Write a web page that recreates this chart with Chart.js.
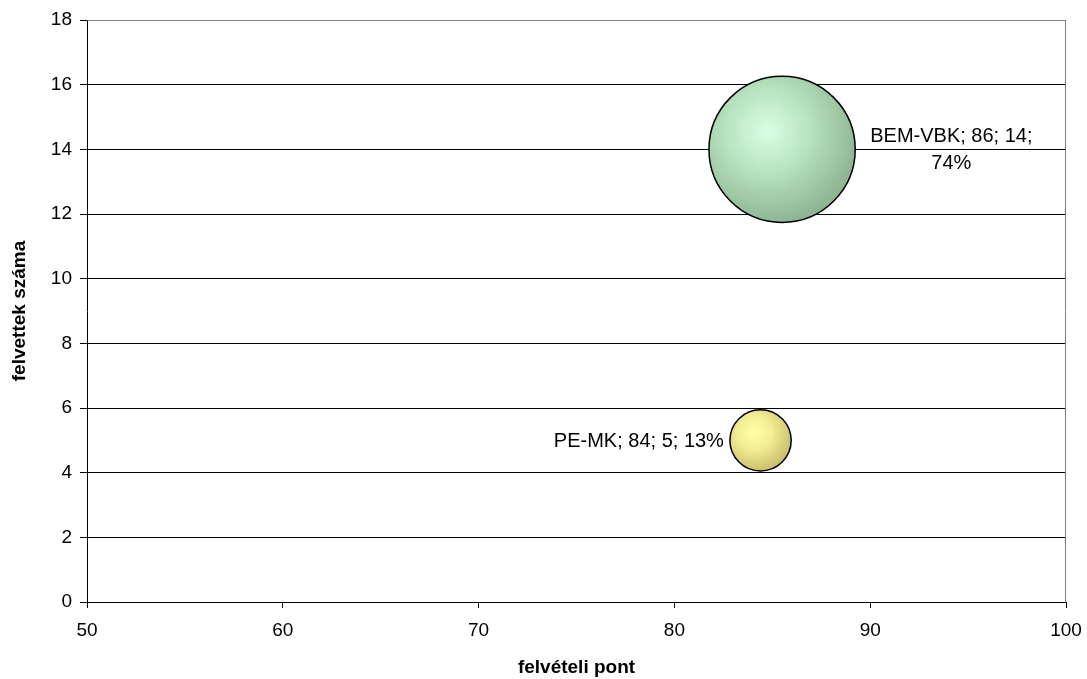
<!DOCTYPE html>
<html>
<head>
<meta charset="utf-8">
<script src="https://cdn.jsdelivr.net/npm/chart.js@4/dist/chart.umd.min.js"></script>
<style>
  body { margin: 0; background: #fff; }
  #wrap { width: 1087px; height: 679px; }
</style>
</head>
<body>
<div id="wrap"><canvas id="chart" width="1087" height="679"></canvas></div>
<script>
// adatok
const names = ['BEM-VBK', 'PE-MK'];
const points = [85.5, 84.4];      // felvételi pont
const admitted = [14, 5];         // felvettek száma
const shares = [74, 13];          // buborék mérete (%)
const labelSide = ['right', 'left'];

const xTicks = { min: 50, max: 100, step: 10 };
const yTicks = { min: 0, max: 18, step: 2 };

const bubbleScale = 8.5;
const fontFamily = '"Liberation Sans", Arial, sans-serif';

// színátmenetek: [világos, közép, sötét]
const palettes = [
    ['#d8ffe4', '#b8e4c0', '#8fb692'],
    ['#ffffa8', '#f2ee94', '#c9c070']
];

const data = names.map((n, i) => ({
    x: points[i],
    y: admitted[i],
    r: Math.sqrt(shares[i]) * bubbleScale
}));

function bubbleFill(ctx) {
    const chart = ctx.chart;
    const raw = ctx.raw;
    const pal = palettes[ctx.dataIndex % palettes.length];
    if (!raw || !chart.scales.x) return pal[1];
    const cx = chart.scales.x.getPixelForValue(raw.x);
    const cy = chart.scales.y.getPixelForValue(raw.y);
    if (!isFinite(cx) || !isFinite(cy)) return pal[1];
    const r = raw.r;
    const hx = cx - r * 0.2;
    const hy = cy - r * 0.25;
    const g = chart.ctx.createRadialGradient(hx, hy, 0, hx, hy, r * 1.25);
    g.addColorStop(0, pal[0]);
    g.addColorStop(0.45, pal[1]);
    g.addColorStop(1, pal[2]);
    return g;
}

// feliratok a buborékok mellett
const bubbleLabels = {
    id: 'bubbleLabels',
    afterDatasetsDraw(chart) {
        const ctx = chart.ctx;
        const meta = chart.getDatasetMeta(0);
        const area = chart.chartArea;
        ctx.save();
        ctx.font = '20px ' + fontFamily;
        ctx.fillStyle = '#000';
        ctx.textBaseline = 'middle';
        meta.data.forEach((el, i) => {
            const r = data[i].r;
            const text = `${names[i]}; ${Math.round(points[i])}; ${admitted[i]}; ${shares[i]}%`;
            if (labelSide[i] === 'right') {
                const start = el.x + r + 15;
                const avail = area.right - start;
                let lines = [text];
                if (ctx.measureText(text).width > avail) {
                    const words = text.split(' ');
                    lines = [];
                    let cur = '';
                    words.forEach(w => {
                        const t = cur ? cur + ' ' + w : w;
                        if (ctx.measureText(t).width > avail && cur) {
                            lines.push(cur);
                            cur = w;
                        } else {
                            cur = t;
                        }
                    });
                    lines.push(cur);
                }
                const w = Math.max(...lines.map(l => ctx.measureText(l).width));
                const lh = 27;
                ctx.textAlign = 'center';
                lines.forEach((l, k) => {
                    ctx.fillText(l, start + w / 2, el.y + 1 + (k - (lines.length - 1) / 2) * lh);
                });
            } else {
                ctx.textAlign = 'right';
                ctx.fillText(text, el.x - r - 6, el.y + 1);
            }
        });
        ctx.restore();
    }
};

// keret a rajzterület körül
const plotFrame = {
    id: 'plotFrame',
    beforeDatasetsDraw(chart) {
        const { ctx, chartArea: a } = chart;
        ctx.save();
        ctx.strokeStyle = '#808080';
        ctx.lineWidth = 1;
        ctx.beginPath();
        ctx.moveTo(Math.round(a.left) + 0.5, Math.round(a.top) + 0.5);
        ctx.lineTo(Math.round(a.right) - 0.5, Math.round(a.top) + 0.5);
        ctx.lineTo(Math.round(a.right) - 0.5, Math.round(a.bottom) + 0.5);
        ctx.stroke();
        ctx.restore();
    }
};

new Chart(document.getElementById('chart'), {
    type: 'bubble',
    data: {
        datasets: [{
            data: data,
            backgroundColor: bubbleFill,
            borderColor: '#000',
            borderWidth: 1.5,
            hoverBorderWidth: 1.5
        }]
    },
    options: {
        responsive: false,
        animation: false,
        events: [],
        layout: { autoPadding: false, padding: { left: 0, top: 20, right: 21, bottom: 0 } },
        plugins: {
            legend: { display: false },
            tooltip: { enabled: false }
        },
        scales: {
            x: {
                type: 'linear',
                min: xTicks.min,
                max: xTicks.max,
                afterFit(scale) {
                    scale.height = 77;
                    scale.paddingLeft = 0;
                    scale.paddingRight = 0;
                },
                ticks: {
                    stepSize: xTicks.step,
                    color: '#000',
                    padding: 11,
                    maxRotation: 0,
                    font: { family: fontFamily, size: 19 }
                },
                grid: {
                    drawOnChartArea: false,
                    drawTicks: true,
                    tickLength: 6,
                    color: '#000'
                },
                border: { color: '#000', width: 1 },
                title: {
                    display: true,
                    text: 'felvételi pont',
                    color: '#000',
                    padding: { top: 0, bottom: 0 },
                    font: { family: fontFamily, size: 19, weight: 'bold', lineHeight: 1.2 }
                }
            },
            y: {
                type: 'linear',
                min: yTicks.min,
                max: yTicks.max,
                afterFit(scale) {
                    scale.width = 87;
                    scale.paddingTop = 0;
                    scale.paddingBottom = 0;
                },
                ticks: {
                    stepSize: yTicks.step,
                    color: '#000',
                    padding: 8,
                    font: { family: fontFamily, size: 19 }
                },
                grid: {
                    color: ctx => (ctx.tick && ctx.tick.value === yTicks.max) ? '#808080' : '#000',
                    tickColor: '#000',
                    tickLength: 7
                },
                border: { color: '#000', width: 1 },
                title: {
                    display: true,
                    text: 'felvettek száma',
                    color: '#000',
                    padding: { top: 8, bottom: 0 },
                    font: { family: fontFamily, size: 19, weight: 'bold', lineHeight: 1.2 }
                }
            }
        }
    },
    plugins: [plotFrame, bubbleLabels]
});
</script>
</body>
</html>
